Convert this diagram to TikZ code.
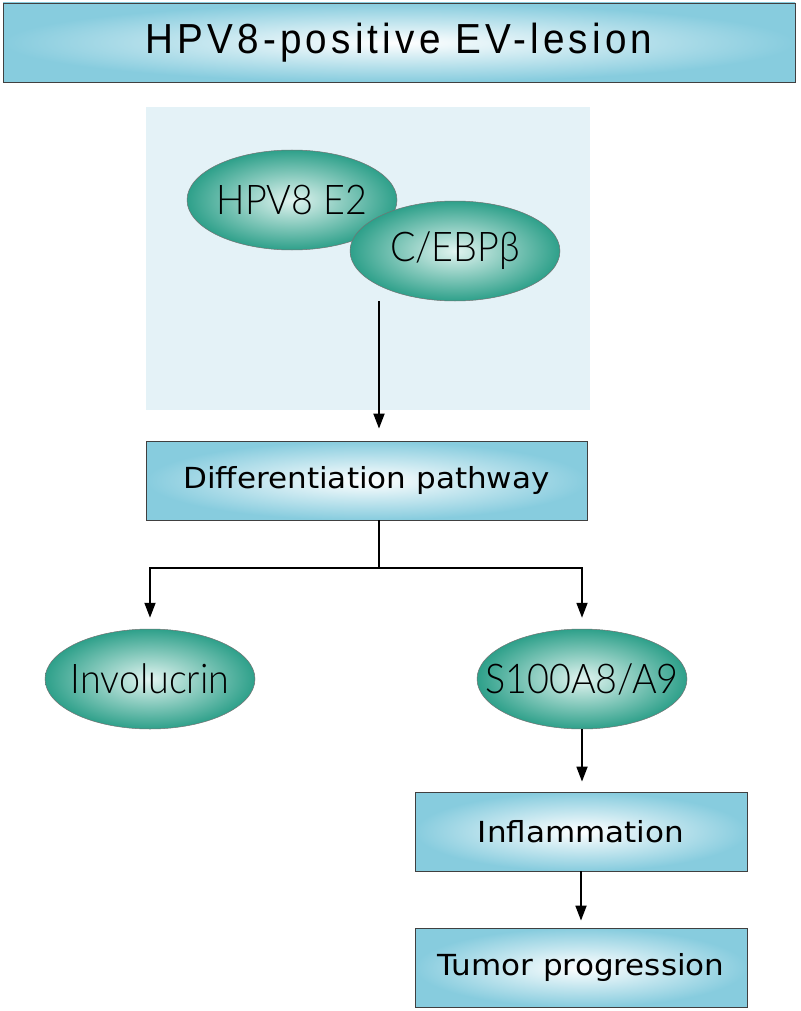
\documentclass[tikz,border=0pt]{standalone}
\usepackage{fontspec}
\setmainfont{DejaVu Sans}
\newfontfamily\titlefont{Liberation Sans}[FakeStretch=0.92, LetterSpace=10]
\newfontfamily\boxfont{DejaVu Sans}[FakeStretch=1.07]
\newfontfamily\ovalfont{Lato Light}[FakeStretch=0.92]
\usepackage{tikz}
\usetikzlibrary{shapes.geometric}
\usetikzlibrary{arrows.meta}

\begin{document}
\begin{tikzpicture}[x=1pt,y=-1pt]
	\definecolor{custcol_box}{RGB}{135,204,222}
	\definecolor{custcol_oval}{RGB}{46,160,138}
	\definecolor{custcol_ovalc}{RGB}{225,244,240}
	\definecolor{custcol_back}{RGB}{228,242,247}
	\tikzset{
		flowbox/.style={draw=black!75, line width=0.8pt, inner color=white, outer color=custcol_box, minimum height=79pt, inner sep=0pt, font=\boxfont\fontsize{29pt}{29pt}\selectfont},
		protein/.style={ellipse, draw=black!55, line width=0.5pt, inner color=custcol_ovalc, outer color=custcol_oval, minimum width=210pt, minimum height=100pt, inner sep=0pt,
			label={[font=\ovalfont\fontsize{41pt}{41pt}\selectfont, inner sep=0pt]center:#1}},
		flowarrow/.style={line width=1.8pt, -{Triangle[length=15pt, width=11pt]}}
	}
	\useasboundingbox (0,0) rectangle (800,1011);
	% title bar
	\node[flowbox, minimum width=792pt, font=\titlefont\fontsize{42pt}{42pt}\selectfont] (title) at (399,42.5) {HPV8-positive EV-lesion};
	% complex panel
	\node[fill=custcol_back, minimum width=444pt, minimum height=303pt, inner sep=0pt] (panel) at (368,258.5) {};
	\node[protein={HPV8 E2}] (e2) at (292,200) {};
	\node[protein={C/EBPβ}] (cebp) at (455,251) {};
	% pathway
	\node[flowbox, minimum width=441pt] (diff) at (366.5,480.5) {Differentiation pathway};
	\coordinate (split) at (379,568);
	\node[protein={Involucrin}] (invol) at (150,679) {};
	\node[protein={S100A8/A9}] (s100) at (582,679) {};
	\node[flowbox, minimum width=332pt] (inflam) at (581,831.5) {Inflammation};
	\node[flowbox, minimum width=332pt] (tumor) at (581,967.5) {Tumor progression};
	% connectors
	\draw[flowarrow, shorten >=12pt] (split |- cebp.south) -- (split |- diff.north);
	\draw[line width=1.8pt] (split |- diff.south) -- (split);
	\draw[flowarrow, shorten >=11pt] (split) -| (invol.north);
	\draw[flowarrow, shorten >=11pt] (split) -| (s100.north);
	\draw[flowarrow, shorten >=10pt] (s100.south) -- (s100.south |- inflam.north);
	\draw[flowarrow, shorten >=7pt] (inflam.south) -- (tumor.north);
\end{tikzpicture}
\end{document}
